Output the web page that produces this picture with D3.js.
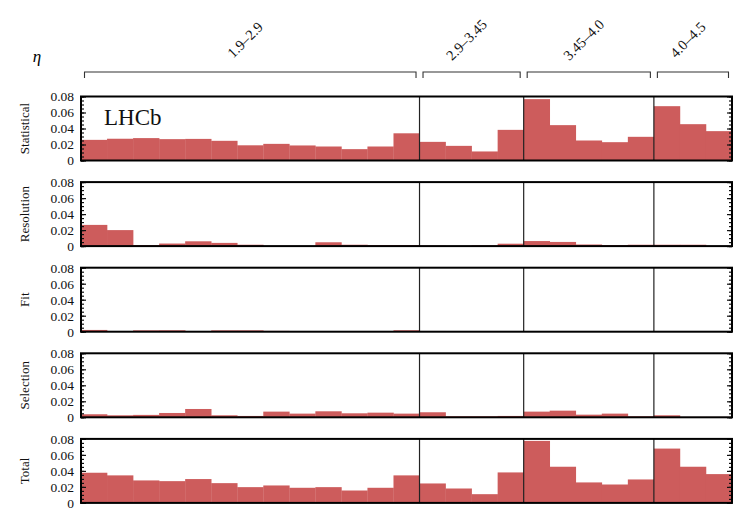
<!DOCTYPE html>
<html><head><meta charset="utf-8">
<script src="https://cdnjs.cloudflare.com/ajax/libs/d3/7.8.5/d3.min.js"></script>
<style>body{margin:0;background:#fff}svg{display:block}</style>
</head><body><div id="chart"></div>
<script>
// eta groups and bin counts
const groups = ["1.9–2.9", "2.9–3.45", "3.45–4.0", "4.0–4.5"];
const groupBins = [13, 4, 5, 3];
const panels = ["Statistical", "Resolution", "Fit", "Selection", "Total"];
const yTicks = [0, 0.02, 0.04, 0.06, 0.08];

const statistical = [0.0258,0.0272,0.0280,0.0267,0.0270,0.0246,0.0190,0.0208,0.0188,0.0175,0.0142,0.0175,0.0340,
  0.0233,0.0183,0.0113,0.0383, 0.0767,0.0442,0.0250,0.0229,0.0296, 0.0679,0.0454,0.0367];
const resolution = [0.0265,0.0200,0.0013,0.0032,0.0060,0.0040,0.0017,0.0002,0.0002,0.0048,0.0017,0.0013,0.0013,
  0.0005,0.0002,0.0008,0.0030, 0.0063,0.0052,0.0020,0.0013,0.0017, 0.0017,0.0017,0.0002];
const fit = [0.0022,0.0008,0.0017,0.0018,0.0008,0.0017,0.0017,0.0010,0.0003,0.0003,0.0005,0.0008,0.0018,
  0.0009,0.0004,0.0002,0.0002, 0.0008,0.0002,0.0004,0.0002,0.0002, 0.0002,0.0002,0.0006];
const selection = [0.0038,0.0025,0.0030,0.0054,0.0104,0.0025,0.0017,0.0071,0.0046,0.0075,0.0050,0.0058,0.0046,
  0.0063,0.0013,0.0013,0.0017, 0.0071,0.0083,0.0033,0.0046,0.0013, 0.0025,0.0005,0.0005];
const total = [0.0377,0.0344,0.0281,0.0272,0.0298,0.0247,0.0197,0.0218,0.0189,0.0197,0.0155,0.0189,0.0344,
  0.0243,0.0180,0.0109,0.0381, 0.0775,0.0452,0.0256,0.0230,0.0293, 0.0679,0.0452,0.0360];
const series = [statistical, resolution, fit, selection, total];

const W = 747, H = 514;
const left = 81, right = 732;
const top0 = 96.5, step = 85.6, ph = 64;
const barColor = "#cd5c5c";
const serif = "'Liberation Serif','DejaVu Serif',serif";

const nBins = d3.sum(groupBins);
const x = d3.scaleLinear().domain([0, nBins]).range([left, right]);
const y = d3.scaleLinear().domain([0, 0.08]).range([ph, 0]);

const bounds = [];
let acc = 0;
groupBins.forEach(n => { bounds.push([acc, acc + n]); acc += n; });

const svg = d3.select("#chart").append("svg").attr("width", W).attr("height", H)
  .style("font-family", serif);

// eta label
svg.append("text").attr("x", 37).attr("y", 62).attr("font-size", 17)
  .attr("font-style", "italic").attr("text-anchor", "middle").text("η");

// group brackets + labels
const br = svg.append("g");
bounds.forEach((b, i) => {
  const x0 = x(b[0]) + 3.5, x1 = x(b[1]) - 3.5;
  br.append("path").attr("d", `M${x0},78V72H${x1}V78`).attr("fill", "none")
    .attr("stroke", "#333").attr("stroke-width", 1.1);
  const cx = (x0 + x1) / 2;
  br.append("text").attr("transform", `translate(${cx - 4},${41}) rotate(-45)`)
    .attr("text-anchor", "middle").attr("dominant-baseline", "middle")
    .attr("font-size", 14.5).attr("fill", "#111").text(groups[i]);
});

panels.forEach((name, p) => {
  const g = svg.append("g").attr("transform", `translate(0,${top0 + p * step})`);
  const vals = series[p];
  g.selectAll("rect.bar").data(vals).join("rect").attr("class", "bar")
    .attr("x", (d, i) => x(i)).attr("width", (d, i) => x(i + 1) - x(i) + 0.3)
    .attr("y", d => y(d)).attr("height", d => ph - y(d))
    .attr("fill", barColor);

  // group separators
  bounds.slice(1).forEach(b => {
    g.append("line").attr("x1", x(b[0])).attr("x2", x(b[0]))
      .attr("y1", 0).attr("y2", ph).attr("stroke", "#222").attr("stroke-width", 1.2);
  });

  // minor ticks
  const minor = d3.range(0, 0.0801, 0.005);
  const la = g.append("g").attr("transform", `translate(${left},0)`)
    .call(d3.axisLeft(y).tickValues(yTicks).tickSize(-5).tickPadding(7)
      .tickFormat(d => d === 0 ? "0" : d3.format(".2f")(d)));
  const lm = g.append("g").attr("transform", `translate(${left},0)`)
    .call(d3.axisLeft(y).tickValues(minor).tickSize(-3).tickFormat(""));
  const ra = g.append("g").attr("transform", `translate(${right},0)`)
    .call(d3.axisRight(y).tickValues(yTicks).tickSize(-5).tickFormat(""));
  const rm = g.append("g").attr("transform", `translate(${right},0)`)
    .call(d3.axisRight(y).tickValues(minor).tickSize(-3).tickFormat(""));
  [la, lm, ra, rm].forEach(a => {
    a.select(".domain").remove();
    a.selectAll("line").attr("stroke", "#111").attr("stroke-width", 1.2);
    a.selectAll("text").attr("font-family", serif).attr("font-size", 13.5).attr("fill", "#111");
  });

  g.append("rect").attr("x", left).attr("y", 0).attr("width", right - left).attr("height", ph)
    .attr("fill", "none").attr("stroke", "#000").attr("stroke-width", 2);

  g.append("text").attr("transform", `translate(26,${ph / 2}) rotate(-90)`)
    .attr("text-anchor", "middle").attr("dominant-baseline", "middle")
    .attr("font-size", 13).attr("fill", "#111").text(name);

  if (p === 0) {
    g.append("text").attr("x", 104).attr("y", 28).attr("font-size", 23)
      .attr("fill", "#111").text("LHCb");
  }
});
</script></body></html>
